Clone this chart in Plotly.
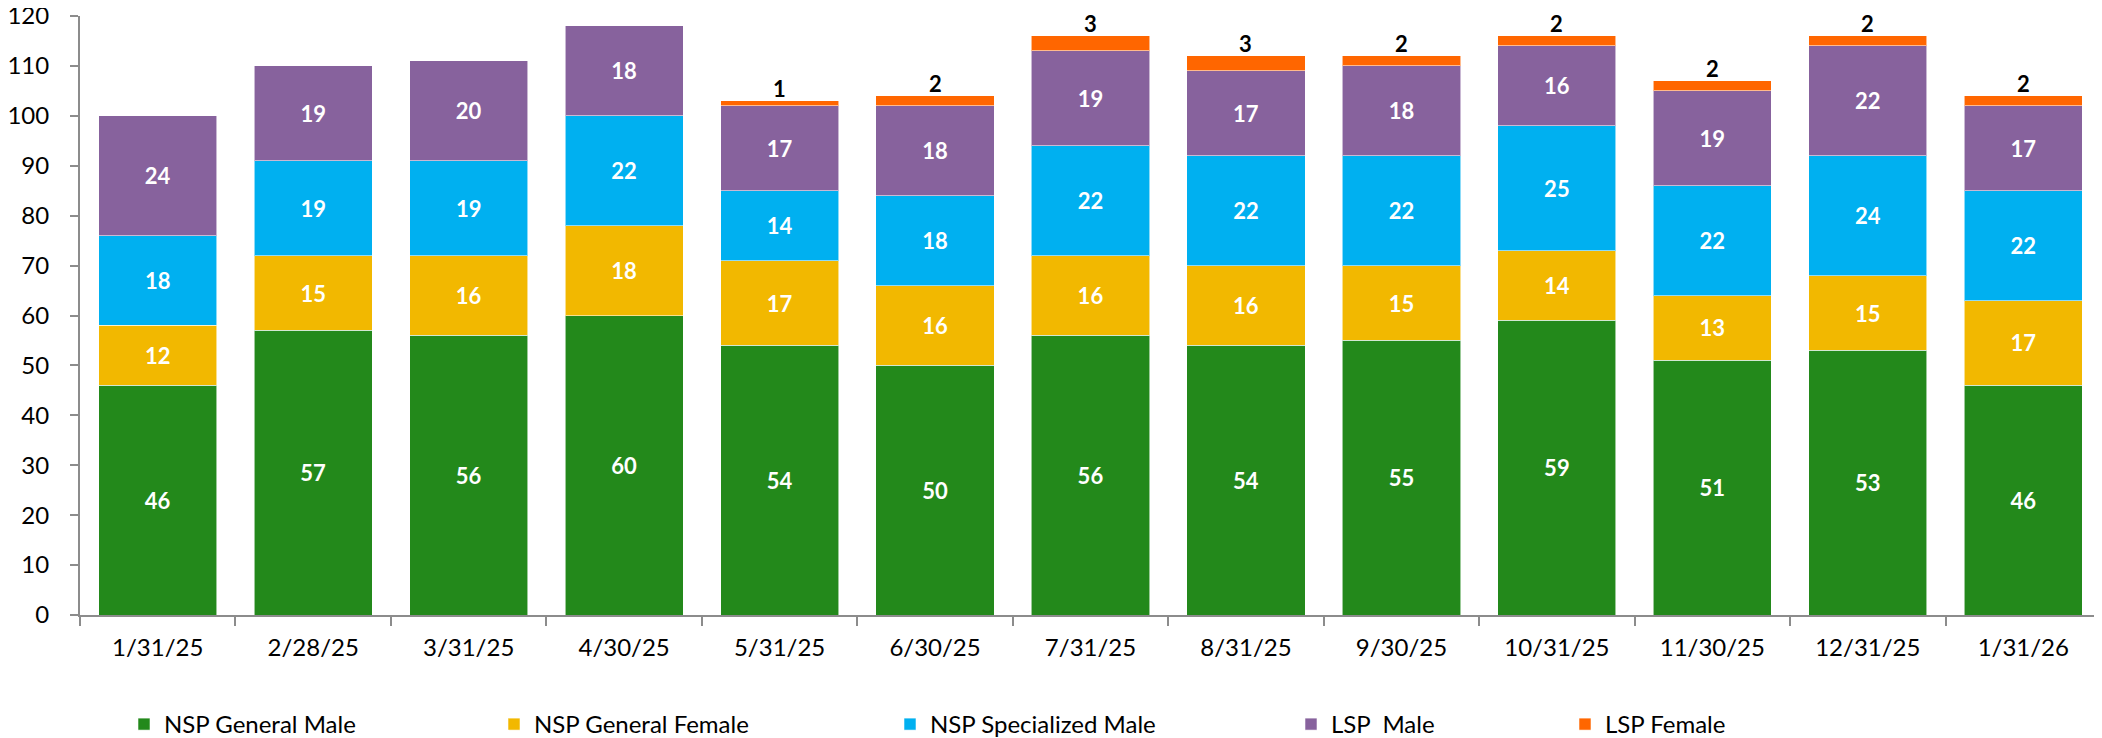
import plotly.graph_objects as go

categories = ["1/31/25", "2/28/25", "3/31/25", "4/30/25", "5/31/25", "6/30/25", "7/31/25",
              "8/31/25", "9/30/25", "10/31/25", "11/30/25", "12/31/25", "1/31/26"]
nsp_general_male = [46, 57, 56, 60, 54, 50, 56, 54, 55, 59, 51, 53, 46]
nsp_general_female = [12, 15, 16, 18, 17, 16, 16, 16, 15, 14, 13, 15, 17]
nsp_specialized_male = [18, 19, 19, 22, 14, 18, 22, 22, 22, 25, 22, 24, 22]
lsp_male = [24, 19, 20, 18, 17, 18, 19, 17, 18, 16, 19, 22, 17]
lsp_female = [None, None, None, None, 1, 2, 3, 3, 2, 2, 2, 2, 2]

series_names = ["NSP General Male", "NSP General Female", "NSP Specialized Male",
                "LSP\u00a0 Male", "LSP Female"]
series_values = [nsp_general_male, nsp_general_female, nsp_specialized_male, lsp_male, lsp_female]
colors = ["#23891B", "#F2B800", "#00B0F0", "#87629D", "#FF6600"]

FONT = "Lato"
# the page body has an 8px margin, so the figure is drawn 8px in from the top-left
OFF = 8
W, H = 2102 - OFF, 738 - OFF
legend_px = [124 - OFF, 494 - OFF, 890 - OFF, 1291 - OFF, 1565 - OFF]
legend_top = 702 - OFF

fig = go.Figure()
for i, (name, vals, col) in enumerate(zip(series_names, series_values, colors)):
    last = i == len(series_names) - 1
    fig.add_trace(go.Bar(
        x=categories, y=vals, name=name,
        marker=dict(color=col, line=dict(color="rgba(255,255,255,0.55)", width=1)),
        text=None if last else [str(v) for v in vals],
        textposition="none" if last else "inside",
        insidetextanchor="middle",
        textangle=0,
        constraintext="none",
        textfont=dict(family=FONT, size=22, color="white", weight="bold"),
        legend="legend" if i == 0 else f"legend{i+1}",
        hoverinfo="x+y+name",
    ))

# LSP Female values shown in black above the top of each stack
annotations = []
for j, cat in enumerate(categories):
    v = lsp_female[j]
    if v is None:
        continue
    total = sum((s[j] or 0) for s in series_values)
    annotations.append(dict(
        x=cat, y=total, xref="x", yref="y", text=str(v), showarrow=False,
        yanchor="bottom", yshift=-3,
        font=dict(family=FONT, size=22, color="black", weight="bold"),
    ))

layout_legends = {}
for i, px in enumerate(legend_px):
    key = "legend" if i == 0 else f"legend{i+1}"
    layout_legends[key] = dict(
        xref="container", yref="container",
        x=px / W, y=(H - legend_top) / H, xanchor="left", yanchor="top",
        orientation="h", bgcolor="rgba(0,0,0,0)", borderwidth=0,
        font=dict(family=FONT, size=24, color="black"),
    )

axis_col = "#8C8C8C"
fig.update_layout(
    width=W, height=H,
    barmode="stack", bargap=0.24,
    plot_bgcolor="white", paper_bgcolor="white",
    margin=dict(l=80 - OFF, r=1, t=16 - OFF, b=123, autoexpand=False),
    font=dict(family=FONT, size=24, color="black"),
    showlegend=True,
    annotations=annotations,
    xaxis=dict(
        type="category", showline=True, linecolor=axis_col, linewidth=2,
        ticks="outside", tickson="boundaries", ticklen=9, tickcolor=axis_col, tickwidth=2,
        showgrid=False, tickfont=dict(family=FONT, size=24, color="black"),
        ticklabelstandoff=10, automargin=False,
    ),
    yaxis=dict(
        range=[0, 120], dtick=10, showline=True, linecolor=axis_col, linewidth=2,
        ticks="outside", ticklen=8, tickcolor=axis_col, tickwidth=2,
        showgrid=False, zeroline=False, tickfont=dict(family=FONT, size=24, color="black"),
        ticklabelstandoff=16, automargin=False, ticklabeloverflow="allow",
    ),
    **layout_legends,
)

fig.write_html("out.html")
